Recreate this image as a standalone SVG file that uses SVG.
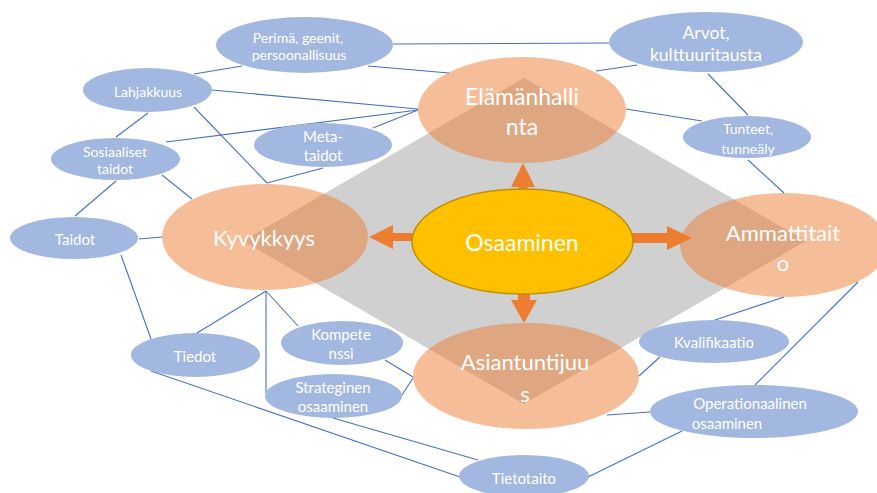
<svg xmlns="http://www.w3.org/2000/svg" width="877" height="493" viewBox="0 0 877 493">
<style>
text{font-family:Lato,"Liberation Sans",sans-serif;fill:#fff;text-anchor:middle;dominant-baseline:central}
.b{fill:#A2B8E0}
.o{fill:#ED7D31;fill-opacity:0.5}
.c line{stroke:#4472C4;stroke-width:1.1}
.s{font-size:14px}
.m{font-size:15px}
.l{font-size:22px}
.ar{fill:#ED7D31}
</style>
<rect width="877" height="493" fill="#fff"/>
<polygon points="524,78 806,241 524,404 243,241" fill="#D0D0D0"/>
<g class="c" id="connectors">
<line x1="393" y1="44" x2="609" y2="43"/>
<line x1="368" y1="66" x2="449" y2="73"/>
<line x1="194" y1="74" x2="242" y2="66"/>
<line x1="212" y1="90" x2="418" y2="109"/>
<line x1="166" y1="142" x2="418" y2="110"/>
<line x1="373" y1="128" x2="418" y2="110"/>
<line x1="148" y1="113" x2="116" y2="137"/>
<line x1="194" y1="107" x2="267" y2="183"/>
<line x1="323" y1="168" x2="267" y2="183"/>
<line x1="116" y1="181" x2="75" y2="216"/>
<line x1="162" y1="175" x2="192" y2="199"/>
<line x1="139" y1="239" x2="162" y2="237"/>
<line x1="121" y1="255" x2="151" y2="339"/>
<line x1="266" y1="291" x2="197" y2="333"/>
<line x1="266" y1="291" x2="266" y2="393"/>
<line x1="266" y1="291" x2="298" y2="326"/>
<line x1="385" y1="360" x2="413" y2="377"/>
<line x1="402" y1="395" x2="413" y2="378"/>
<line x1="151" y1="371" x2="460" y2="477"/>
<line x1="333" y1="418" x2="478" y2="460"/>
<line x1="588" y1="477" x2="682" y2="431"/>
<line x1="650" y1="412" x2="607" y2="415"/>
<line x1="639" y1="376" x2="660" y2="357"/>
<line x1="715" y1="320" x2="784" y2="297"/>
<line x1="755" y1="385" x2="858" y2="282"/>
<line x1="626" y1="109" x2="702" y2="121"/>
<line x1="708" y1="74" x2="748" y2="115"/>
<line x1="748" y1="160" x2="784" y2="193"/>
<line x1="596" y1="71" x2="637" y2="65"/>
</g>
<g id="elamanhallinta"><ellipse class="o" cx="522" cy="110" rx="104" ry="53"/><text class="l" x="522" y="96" style="font-size:23px">Elämänhalli</text><text class="l" x="522" y="126" style="font-size:23px">nta</text></g>
<g id="kyvykkyys"><ellipse class="o" cx="265" cy="237" rx="103" ry="53"/><text class="l" x="264" y="237">Kyvykkyys</text></g>
<g id="ammattitaito"><ellipse class="o" cx="784" cy="245" rx="104" ry="52"/><text class="l" x="783" y="232">Ammattitait</text><text class="l" x="783" y="262">o</text></g>
<g id="asiantuntijuus"><ellipse class="o" cx="526" cy="376" rx="113" ry="53"/><text class="l" x="525" y="361">Asiantuntijuu</text><text class="l" x="525" y="393">s</text></g>
<g id="arrows">
<polygon class="ar" points="523,163 535,187 527.5,187 527.5,195 518.5,195 518.5,187 511,187"/>
<polygon class="ar" points="518,288 530,288 530,300 537,300 524,323 511,300 518,300"/>
<polygon class="ar" points="369,237 393,225 393,233 418,233 418,241 393,241 393,249"/>
<polygon class="ar" points="628,233 667,233 667,226 692,238 667,250 667,243 628,243"/>
</g>
<g id="osaaminen"><ellipse cx="522.5" cy="241.5" rx="110.5" ry="52.5" fill="#FFC000" stroke="#BF9000" stroke-width="1.5"/><text class="l" x="522" y="242" style="font-size:23px">Osaaminen</text></g>
<g id="perima"><ellipse class="b" cx="304.5" cy="45" rx="88.5" ry="28"/><text class="s" x="298" y="37">Perimä, geenit,</text><text class="s" x="299" y="54">persoonallisuus</text></g>
<g id="lahjakkuus"><ellipse class="b" cx="147.5" cy="90" rx="64.5" ry="22"/><text class="s" x="148" y="91">Lahjakkuus</text></g>
<g id="sosiaaliset"><ellipse class="b" cx="115.5" cy="159" rx="64.5" ry="21"/><text class="s" x="115" y="151">Sosiaaliset</text><text class="s" x="115" y="168">taidot</text></g>
<g id="metataidot"><ellipse class="b" cx="323" cy="145" rx="69" ry="22"/><text class="m" x="323" y="136">Meta-</text><text class="m" x="323" y="155">taidot</text></g>
<g id="taidot"><ellipse class="b" cx="74" cy="238" rx="64" ry="21"/><text class="m" x="75" y="239">Taidot</text></g>
<g id="arvot"><ellipse class="b" cx="706" cy="42" rx="97" ry="30"/><text x="706" y="32" style="font-size:17.5px">Arvot,</text><text x="706" y="54" style="font-size:17.5px">kulttuuritausta</text></g>
<g id="tunteet"><ellipse class="b" cx="747" cy="137" rx="64" ry="21"/><text class="s" x="748" y="128">Tunteet,</text><text class="s" x="748" y="148">tunneäly</text></g>
<g id="kompetenssi"><ellipse class="b" cx="342" cy="343" rx="61" ry="22"/><text class="m" x="341" y="334">Kompete</text><text class="m" x="341" y="353">nssi</text></g>
<g id="tiedot"><ellipse class="b" cx="195.5" cy="355" rx="64.5" ry="22"/><text class="m" x="195" y="356">Tiedot</text></g>
<g id="strateginen"><ellipse class="b" cx="333.5" cy="396" rx="68.5" ry="22"/><text class="m" x="333" y="387">Strateginen</text><text class="m" x="333" y="406">osaaminen</text></g>
<g id="kvalifikaatio"><ellipse class="b" cx="714" cy="341.5" rx="75" ry="21.5"/><text class="m" x="714" y="342">Kvalifikaatio</text></g>
<g id="operationaalinen"><ellipse class="b" cx="754" cy="411.5" rx="104" ry="26.5"/><text class="m" x="750" y="403">Operationaalinen</text><text class="m" x="727" y="423">osaaminen</text></g>
<g id="tietotaito"><ellipse class="b" cx="524" cy="476" rx="65" ry="21"/><text class="m" x="524" y="478">Tietotaito</text></g>
</svg>
